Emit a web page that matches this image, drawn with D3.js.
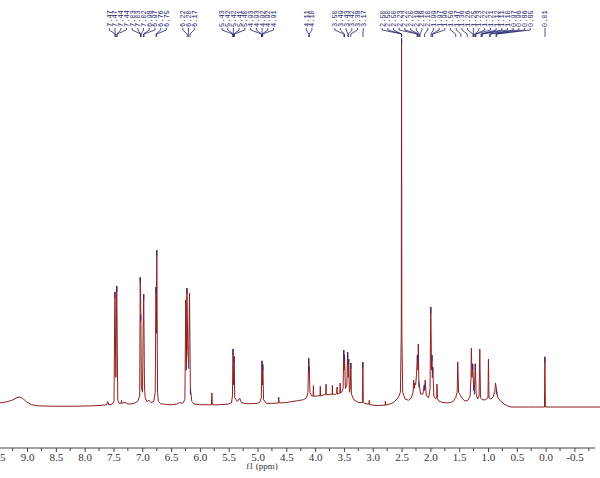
<!DOCTYPE html>
<html>
<head>
<meta charset="utf-8">
<script src="https://cdn.jsdelivr.net/npm/d3@7/dist/d3.min.js"></script>
<style>
  html, body { margin: 0; padding: 0; background: #fff; }
  svg { display: block; }
</style>
</head>
<body>
<div id="chart"></div>
<script>
// spectrum trace: chemical shift (ppm) and intensity (2.50 peak = 100)
const specPpm = [
  9.47, 9.35, 9.25, 9.18, 9.13, 9.08, 9.0, 8.92, 8.8, 8.5, 8.2, 7.9, 7.75, 7.62, 7.6, 7.58, 7.52,
  7.49, 7.475, 7.458, 7.443, 7.425, 7.40, 7.365, 7.36, 7.355, 7.30, 7.25, 7.15, 7.08,
  7.045, 7.035, 7.025, 7.015, 6.995, 6.985, 6.975, 6.962, 6.95, 6.92, 6.88, 6.85, 6.80,
  6.775, 6.762, 6.755, 6.748, 6.735, 6.72, 6.68, 6.6, 6.5, 6.4, 6.35, 6.30,
  6.26, 6.245, 6.235, 6.225, 6.21, 6.195, 6.18, 6.165, 6.14, 6.1, 6.0, 5.9, 5.80, 5.792, 5.784, 5.7, 5.6, 5.5, 5.45,
  5.435, 5.425, 5.415, 5.405, 5.395, 5.35, 5.31, 5.28, 5.2, 5.1, 5.0, 4.96,
  4.935, 4.922, 4.915, 4.908, 4.895, 4.85, 4.7, 4.64, 4.632, 4.624, 4.5, 4.4, 4.3, 4.2, 4.15,
  4.125, 4.112, 4.102, 4.09, 4.06, 4.035, 4.03, 4.025, 3.96, 3.915, 3.91, 3.905, 3.85, 3.815, 3.81, 3.805,
  3.75, 3.705, 3.70, 3.695, 3.64, 3.625, 3.62, 3.615, 3.57, 3.565, 3.56, 3.54,
  3.515, 3.503, 3.497, 3.49, 3.475, 3.45, 3.435, 3.425, 3.418, 3.405, 3.39, 3.38, 3.37, 3.33, 3.25, 3.18, 3.172, 3.164,
  3.1, 3.065, 3.06, 3.055, 3.0, 2.9, 2.8, 2.785, 2.78, 2.775, 2.68, 2.62, 2.56, 2.52,
  2.505, 2.5, 2.495, 2.48, 2.44, 2.38, 2.33,
  2.30, 2.29, 2.28, 2.27, 2.255, 2.24, 2.225, 2.215, 2.21, 2.2, 2.17, 2.13, 2.105, 2.098, 2.09, 2.07, 2.03,
  2.005, 1.993, 1.98, 1.972, 1.965, 1.958, 1.94, 1.91, 1.89, 1.885, 1.878, 1.85, 1.8, 1.72, 1.65, 1.6, 1.56, 1.535,
  1.525, 1.51, 1.48, 1.44, 1.40, 1.35, 1.31,
  1.295, 1.288, 1.278, 1.265, 1.25, 1.235, 1.22, 1.205, 1.18, 1.155, 1.142, 1.13, 1.1, 1.05, 1.0, 0.992, 0.982,
  0.95, 0.91, 0.88, 0.87, 0.855, 0.83, 0.78, 0.72, 0.66, 0.6, 0.3, 0.02, 0.012, 0.004, -0.944
];
const specInt = [
  1.1, 1.4, 1.9, 2.5, 2.7, 2.4, 1.3, 0.6, 0.3, 0.2, 0.2, 0.3, 0.4, 0.6, 1.5, 0.6, 0.8,
  1.5, 31.2, 8, 32.8, 1.8, 1.0, 1.0, 1.8, 1.0, 1.3, 0.8, 0.9, 1.5,
  3, 35.2, 25, 5, 4, 20.9, 30.6, 6, 2.5, 1.5, 1.8, 1.2, 1.5,
  4, 32.5, 20, 42.5, 4, 1.5, 0.9, 0.7, 0.6, 0.8, 1.2, 1.0,
  2.0, 29, 10, 32.2, 15, 12, 30.9, 5, 1.5, 0.8, 0.6, 0.6, 0.6, 3.8, 0.6, 0.6, 0.7, 0.8, 1.2,
  3, 15.7, 6, 13.8, 2.5, 1.5, 2.4, 1.2, 0.9, 0.9, 1.0, 1.3,
  2.5, 12.5, 6, 11.5, 2, 1.0, 1.0, 1.1, 2.7, 1.1, 1.2, 1.5, 1.7, 2.0, 2.5,
  4, 13.3, 11, 4, 3, 3, 5.8, 2.9, 3, 3.1, 5.6, 3.0, 3.3, 3.4, 6.2, 3.3,
  3.4, 3.5, 5.9, 3.4, 3.5, 3.6, 5.4, 3.5, 3.8, 6.5, 3.8, 4,
  5, 15.4, 10, 14.1, 5, 6, 14.9, 8, 13, 4, 5, 11.9, 3.5, 2, 1.2, 1.2, 12.2, 1.2,
  0.8, 0.8, 1.8, 0.7, 0.5, 0.4, 0.5, 0.5, 1.6, 0.5, 0.9, 1.5, 2.5, 4,
  20, 100, 20, 4, 2.2, 1.8, 2.5,
  4, 7.3, 5, 6.5, 6, 9, 14.1, 10, 17.1, 7, 3.5, 3.5, 6, 4.8, 7.3, 3, 2.5,
  5, 27.1, 10, 14.1, 8, 10.8, 3, 2.2, 2.6, 6.2, 2.2, 1.6, 1.3, 1.1, 1.2, 1.6, 2.6, 4,
  12.2, 4, 3.2, 2.2, 1.6, 1.8, 3,
  8, 16, 8, 11.7, 6, 5, 11.7, 3.5, 2.2, 3, 15.7, 2.5, 2, 1.9, 2.5, 13, 2.5,
  2.2, 2.7, 4.5, 6.5, 5, 2.5, 1.6, 0.8, 0.3, 0, 0, 0, 13.6, 0, 0
];

// picked peak labels (ppm)
const labelText = [
  "7.47", "7.47", "7.44", "7.44",
  "7.03", "7.03", "7.02", "6.98", "6.97", "6.76", "6.75", "6.22", "6.20", "6.17",
  "5.43", "5.42", "5.42", "5.41", "5.40", "4.93", "4.93", "4.92", "4.92", "4.91",
  "4.11", "4.10",
  "3.50", "3.49", "3.43", "3.42", "3.38", "3.17",
  "2.50", "2.50", "2.50", "2.23", "2.22", "2.20", "2.19", "2.18", "2.10", "1.99", "1.97", "1.96",
  "1.56", "1.47", "1.36", "1.26", "1.25", "1.23", "1.22", "1.21", "1.12", "1.11", "1.10", "0.97", "0.96", "0.86", "0.85",
  "0.01"
];

const tickValues = d3.range(-0.5, 9.51, 0.5);
const minorTicks = d3.range(-0.75, 9.5, 0.5);

const W = 600, H = 478;
const svg = d3.select("#chart").append("svg").attr("width", W).attr("height", H);

const x = d3.scaleLinear().domain([9.469, -0.944]).range([0, 600]);
const y = d3.scaleLinear().domain([0, 100]).range([407, 38]);

// axis
const axisY = 448;
const axis = d3.axisBottom(x)
    .tickValues(tickValues)
    .tickFormat(d => d.toFixed(1))
    .tickSize(4)
    .tickPadding(1);
const gAxis = svg.append("g").attr("transform", `translate(0,${axisY})`).call(axis);
gAxis.select(".domain").attr("d", "M0,0H595").attr("stroke", "#444");
gAxis.selectAll(".tick line").attr("stroke", "#444");
gAxis.selectAll(".tick text")
    .style("font-family", "'Liberation Serif', serif")
    .style("font-size", "11px")
    .attr("fill", "#333");
gAxis.selectAll(".minor").data(minorTicks).enter().append("line")
    .attr("class", "minor")
    .attr("x1", d => x(d)).attr("x2", d => x(d))
    .attr("y1", 0).attr("y2", 3)
    .attr("stroke", "#444");

svg.append("text")
    .attr("x", 262).attr("y", 469)
    .attr("text-anchor", "middle")
    .style("font-family", "'Liberation Serif', serif")
    .style("font-size", "9px")
    .attr("fill", "#333")
    .text("f1 (ppm)");

// spectrum
const pts = specPpm.map((p, k) => [p, specInt[k]]);
const line = d3.line().x(d => x(d[0])).y(d => y(d[1]));
svg.append("path")
    .datum(pts)
    .attr("d", line)
    .attr("fill", "none")
    .attr("stroke", "#8e2020")
    .attr("stroke-width", 1)
    .attr("stroke-linejoin", "round");

// blue tips on picked peaks
function apexNear(p) {
  let best = null;
  pts.forEach(d => {
    if (Math.abs(d[0] - p) <= 0.009 && (!best || d[1] > best[1])) best = d;
  });
  return best;
}
const labelPpm = labelText.map(t => +t);
const tips = [];
labelPpm.forEach(p => {
  const a = apexNear(p);
  if (a && a[1] > 4 && !tips.includes(a)) tips.push(a);
});
svg.append("g").selectAll("line").data(tips).enter().append("line")
    .attr("x1", d => x(d[0])).attr("x2", d => x(d[0]))
    .attr("y1", d => y(d[1])).attr("y2", d => y(d[1]) + 6)
    .attr("stroke", "#2c2c8a")
    .attr("stroke-width", 1);

// label layout: spread labels apart, each cluster centred between mean and median of its peaks
const gap = 5.7;
const want = labelPpm.map(p => x(p));
function centre(idx) {
  const v = idx.map(k => want[k]);
  return (d3.mean(v) + d3.median(v)) / 2;
}
let clusters = [];
want.forEach((w, k) => {
  clusters.push({ idx: [k] });
  let merged = true;
  while (merged && clusters.length > 1) {
    merged = false;
    const b = clusters[clusters.length - 1], a = clusters[clusters.length - 2];
    const aEnd = centre(a.idx) + (a.idx.length - 1) / 2 * gap;
    const bStart = centre(b.idx) - (b.idx.length - 1) / 2 * gap;
    if (bStart - aEnd < gap) {
      clusters.splice(clusters.length - 2, 2, { idx: a.idx.concat(b.idx) });
      merged = true;
    }
  }
});
const labelX = [];
clusters.forEach(c => {
  const n = c.idx.length, mid = centre(c.idx);
  c.idx.forEach((k, j) => { labelX[k] = mid + (j - (n - 1) / 2) * gap; });
});

const navy = "#24246e";
const gLab = svg.append("g");
labelText.forEach((t, k) => {
  const lx = labelX[k], px = want[k];
  gLab.append("text")
      .attr("transform", `translate(${lx},27) rotate(-90)`)
      .attr("dy", "0.35em")
      .style("font-family", "'Liberation Mono', monospace")
      .style("font-size", "7px")
      .attr("fill", navy)
      .text(t);
  gLab.append("path")
      .attr("d", `M${lx},28V30L${px},34V37`)
      .attr("fill", "none")
      .attr("stroke", navy)
      .attr("stroke-width", 0.8);
});
</script>
</body>
</html>
